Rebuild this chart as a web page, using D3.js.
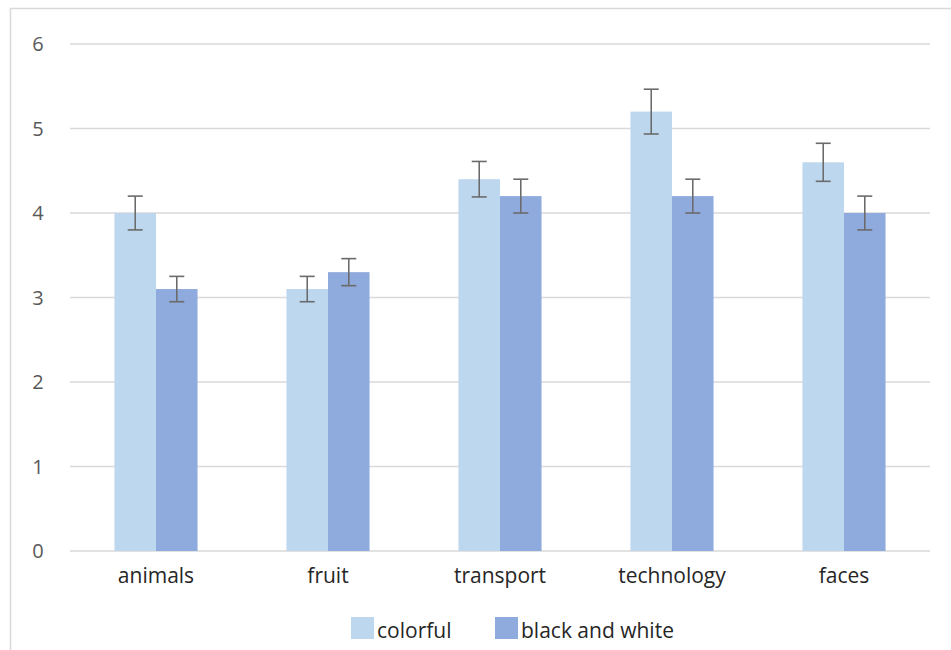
<!DOCTYPE html>
<html><head><meta charset="utf-8">
<script src="https://cdn.jsdelivr.net/npm/d3@7"></script>
<style>
html,body{margin:0;padding:0;background:#fff;}
svg text{font-family:"Open Sans","Noto Sans",sans-serif;}
</style></head>
<body><svg id="chart" width="951" height="650"></svg>
<script>
const categories = ["animals","fruit","transport","technology","faces"];
const seriesNames = ["colorful","black and white"];
const colorfulValues = [4.0,3.1,4.4,5.2,4.6];
const colorfulErrors = [0.2,0.15,0.21,0.265,0.225];
const bwValues = [3.1,3.3,4.2,4.2,4.0];
const bwErrors = [0.15,0.16,0.2,0.2,0.2];
const yTicks = [0,1,2,3,4,5,6];
const seriesColors = ["#bdd7ee","#8faadc"];

const svg = d3.select("#chart");
// outer chart border
svg.append("rect").attr("x",10.5).attr("y",8.5).attr("width",960).attr("height",660)
  .attr("fill","none").attr("stroke","#d9d9d9").attr("stroke-width",1.5);

const x0 = d3.scaleBand().domain(categories).range([70,930]).paddingInner(0.517).paddingOuter(0.2585);
const x1 = d3.scaleBand().domain(seriesNames).range([0,x0.bandwidth()]);
const y = d3.scaleLinear().domain([0,6]).range([551,44]);

// gridlines
svg.append("g").selectAll("line").data(yTicks).join("line")
  .attr("x1",70).attr("x2",930).attr("y1",d=>y(d)).attr("y2",d=>y(d))
  .attr("stroke","#d9d9d9").attr("stroke-width",1.5);

// y tick labels
svg.append("g").selectAll("text").data(yTicks).join("text")
  .attr("x",38).attr("y",d=>y(d)).attr("dy","0.36em").attr("text-anchor","middle")
  .attr("fill","#595959").attr("font-size",20).text(d=>d);

const data = categories.map((c,i)=>({cat:c, vals:[
  {s:seriesNames[0], v:colorfulValues[i], e:colorfulErrors[i], c:seriesColors[0]},
  {s:seriesNames[1], v:bwValues[i], e:bwErrors[i], c:seriesColors[1]}]}));

const groups = svg.append("g").selectAll("g").data(data).join("g")
  .attr("transform",d=>`translate(${x0(d.cat)},0)`);
groups.selectAll("rect").data(d=>d.vals).join("rect")
  .attr("x",d=>x1(d.s)).attr("width",x1.bandwidth())
  .attr("y",d=>y(d.v)).attr("height",d=>y(0)-y(d.v)).attr("fill",d=>d.c);

const err = groups.selectAll("g.err").data(d=>d.vals).join("g").attr("class","err")
  .attr("stroke","#6b6b6b").attr("stroke-width",1.6);
err.append("line").attr("x1",d=>x1(d.s)+x1.bandwidth()/2).attr("x2",d=>x1(d.s)+x1.bandwidth()/2)
  .attr("y1",d=>y(d.v+d.e)).attr("y2",d=>y(d.v-d.e));
err.append("line").attr("x1",d=>x1(d.s)+x1.bandwidth()/2-7.5).attr("x2",d=>x1(d.s)+x1.bandwidth()/2+7.5)
  .attr("y1",d=>y(d.v+d.e)).attr("y2",d=>y(d.v+d.e));
err.append("line").attr("x1",d=>x1(d.s)+x1.bandwidth()/2-7.5).attr("x2",d=>x1(d.s)+x1.bandwidth()/2+7.5)
  .attr("y1",d=>y(d.v-d.e)).attr("y2",d=>y(d.v-d.e));

// category labels
svg.append("g").selectAll("text").data(categories).join("text")
  .attr("x",d=>x0(d)+x0.bandwidth()/2).attr("y",583).attr("text-anchor","middle")
  .attr("fill","#262626").attr("font-size",21).text(d=>d);

// legend
const legend = [{n:seriesNames[0],c:seriesColors[0],x:351},{n:seriesNames[1],c:seriesColors[1],x:495}];
const lg = svg.append("g").selectAll("g").data(legend).join("g").attr("transform",d=>`translate(${d.x},617)`);
lg.append("rect").attr("width",23).attr("height",22).attr("fill",d=>d.c);
lg.append("text").attr("x",26).attr("y",21).attr("fill","#262626").attr("font-size",21).text(d=>d.n);
</script></body></html>
